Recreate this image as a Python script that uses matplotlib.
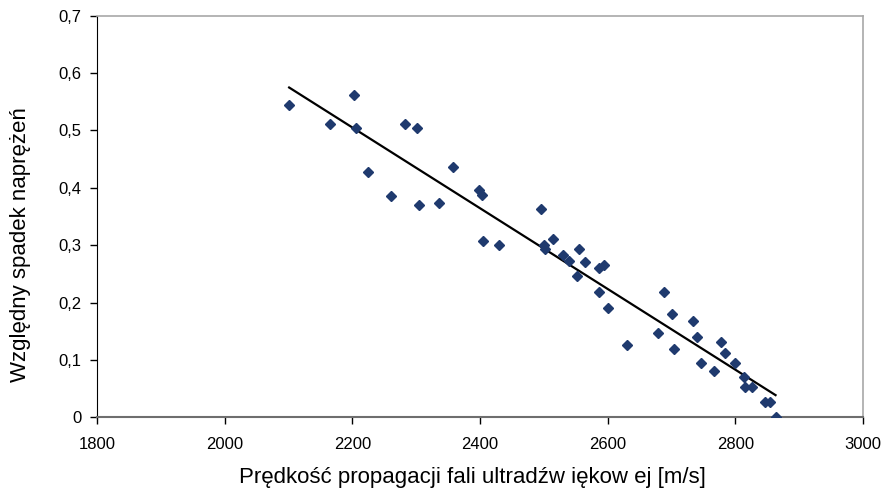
import numpy as np
import matplotlib
matplotlib.use("Agg")
import matplotlib.pyplot as plt

plt.rcParams['font.family'] = ['Liberation Sans', 'DejaVu Sans']

# predkosc fali [m/s] i wzgledny spadek naprezen
velocity = [2101, 2165, 2203, 2206, 2224, 2260, 2282, 2301, 2304, 2336,
            2358, 2399, 2403, 2404, 2429, 2495, 2501, 2502, 2514, 2530,
            2540, 2555, 2565, 2552, 2587, 2594, 2587, 2600, 2631, 2679,
            2689, 2701, 2704, 2733, 2740, 2746, 2766, 2778, 2784, 2800,
            2813, 2815, 2826, 2847, 2854, 2863]
stress_drop = [0.544, 0.512, 0.562, 0.505, 0.427, 0.385, 0.512, 0.504, 0.370, 0.374,
               0.437, 0.396, 0.388, 0.307, 0.300, 0.363, 0.300, 0.293, 0.311, 0.283,
               0.272, 0.293, 0.271, 0.247, 0.261, 0.265, 0.219, 0.191, 0.126, 0.147,
               0.218, 0.180, 0.119, 0.168, 0.140, 0.095, 0.081, 0.131, 0.112, 0.095,
               0.071, 0.052, 0.052, 0.027, 0.027, 0.000]

x_ticks = [1800, 2000, 2200, 2400, 2600, 2800, 3000]
y_ticks = [0, 0.1, 0.2, 0.3, 0.4, 0.5, 0.6, 0.7]
y_tick_labels = ['0', '0,1', '0,2', '0,3', '0,4', '0,5', '0,6', '0,7']

fig = plt.figure(figsize=(8.84, 4.93), dpi=100)
ax = fig.add_axes([97 / 884, 1 - 417.3 / 493, 766 / 884, 401.6 / 493])

# linia trendu (regresja liniowa)
x = np.array(velocity)
y = np.array(stress_drop)
b, a = np.polyfit(x, y, 1)
xs = np.array([x.min(), x.max()])
ax.plot(xs, a + b * xs, color='black', lw=1.6, zorder=2)

ax.plot(velocity, stress_drop, linestyle='none', marker='D', ms=5.5,
        color='#1f3a6e', zorder=3)

ax.set_xlim(1800, 3000)
ax.set_ylim(0, 0.7)
ax.set_xticks(x_ticks)
ax.set_yticks(y_ticks, y_tick_labels)
ax.tick_params(axis='both', labelsize=12, length=5, width=1, color='black')
ax.tick_params(axis='x', pad=9)
ax.tick_params(axis='y', pad=6)

ax.spines['left'].set_color('black')
ax.spines['bottom'].set_color('#6e6e6e')
ax.spines['bottom'].set_linewidth(1.5)
for s in ['top', 'right']:
    ax.spines[s].set_color('#a8a8a8')
    ax.spines[s].set_linewidth(1.2)

ax.set_xlabel('Prędkość propagacji fali ultradźw iękow ej [m/s]', fontsize=16, va='center')
ax.xaxis.set_label_coords(0.4896, -0.151)
ax.set_ylabel('Względny spadek naprężeń', fontsize=16, va='center', ha='center')
ax.yaxis.set_label_coords(-0.1005, 0.429)

fig.savefig('out.png', dpi=100)
